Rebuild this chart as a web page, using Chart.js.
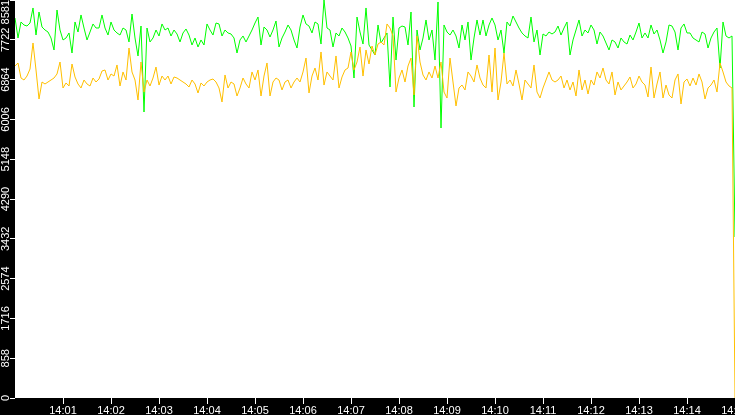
<!DOCTYPE html>
<html>
<head>
<meta charset="utf-8">
<script src="https://cdn.jsdelivr.net/npm/chart.js@4/dist/chart.umd.min.js"></script>
<style>
  html, body { margin: 0; padding: 0; background: #000; }
  #wrap { width: 735px; height: 415px; position: relative; }
</style>
</head>
<body>
<div id="wrap"><canvas id="speedChart"></canvas></div>
<script>
// 采样间隔(秒), 从 14:00:00 开始
const sampleStep = 3.75;

// 绿色曲线
const greenValues = [
  8193, 7762, 8107, 8042, 8020, 8085, 8409, 7826, 8322, 7999, 7934, 7891, 7762, 7503, 8365, 7934, 7719, 7762, 7870, 7438, 8107, 7891, 8258, 7977, 7719, 7891, 8064, 7977, 7977, 8258,
  7977, 7826, 8107, 7934, 7870, 7826, 7977, 7934, 7676, 8279, 7762, 7374, 8020, 6166, 7977, 7676, 7762, 7934, 7805, 8064, 7934, 7977, 7805, 7934, 7848, 7676, 7870, 7956, 7826, 7611,
  7762, 7568, 7719, 7611, 8064, 7934, 7826, 8085, 8064, 7805, 7934, 7870, 7848, 7762, 7438, 7719, 7805, 7676, 7805, 7934, 8085, 8214, 7611, 7999, 7934, 7783, 7934, 8128, 7568, 7762,
  7891, 8042, 7934, 7719, 7546, 7999, 8258, 8064, 8020, 7870, 8107, 8064, 7632, 8581, 7977, 7934, 7568, 7870, 7805, 7977, 7891, 7762, 7589, 6899, 8214, 7891, 7632, 8409, 7611, 7503,
  7395, 8042, 7654, 7762, 7870, 6705, 8214, 7287, 7977, 8020, 7999, 7611, 8322, 6274, 7934, 7503, 7762, 8150, 7719, 7934, 7287, 8538, 5821, 8042, 7891, 7826, 7934, 7805, 7546, 8042,
  7719, 8107, 7287, 7762, 8150, 7826, 8150, 7805, 8042, 8193, 8042, 7719, 7934, 7438, 8107, 8020, 8236, 8107, 7977, 7870, 7805, 7762, 8214, 7676, 7934, 7395, 7848, 7805, 7891, 7848, 7891, 8020,
  7826, 7977, 8107, 7395, 7719, 7934, 8150, 7805, 7934, 7870, 8042, 7934, 7632, 7891, 7805, 7654, 7503, 7719, 7676, 7546, 7762, 7676, 7632, 7826, 7719, 7891, 8085, 7762, 7870, 7762,
  8042, 7848, 7934, 7719, 7438, 7676, 8042, 8020, 7891, 7503, 7977, 8064, 7870, 7870, 7762, 7719, 7676, 7891, 7848, 7546, 7762, 7891, 7977, 7115, 8107, 7805, 7762, 7805,
  3471
];

// 黄色曲线
const yellowValues = [
  7158, 7223, 6899, 6856, 6942, 7093, 7654, 7072, 6447, 6813, 6770, 6813, 6856, 6899, 6986, 7244, 6684, 6792, 6727, 7201, 6921, 6770, 6684, 6856, 6770, 6727, 6899, 6813, 6878, 7050,
  7072, 6856, 6986, 6942, 7180, 6727, 7029, 6856, 7546, 7029, 6856, 6425, 7244, 6597, 6856, 6727, 6899, 7136, 6748, 6942, 6856, 6942, 6770, 6921, 6899, 6856, 6813, 6770, 6705, 6856,
  6770, 6576, 6792, 6727, 6813, 6856, 6878, 6813, 6684, 6382, 6964, 6684, 6813, 6770, 6511, 6684, 6899, 6770, 6684, 7029, 6856, 7072, 6511, 6942, 7223, 6511, 6813, 6899, 6856, 6641,
  6813, 6856, 6684, 6813, 6899, 6813, 7029, 7330, 6576, 6942, 7115, 6856, 7460, 6748, 7029, 6942, 6856, 7374, 6684, 6921, 7072, 7115, 7460, 7072, 7244, 7568, 6942, 7503, 7201, 7589,
  7395, 7632, 7676, 7611, 8064, 7977, 7805, 6597, 6899, 7072, 6813, 7158, 7330, 6533, 7805, 7244, 6964, 6856, 7029, 6899, 7158, 6899, 7244, 6597, 6468, 7330, 6813, 6296, 6684, 6748,
  6641, 7029, 6942, 6813, 7180, 6899, 6748, 6684, 7395, 6597, 7546, 6425, 6813, 7438, 6770, 6856, 6727, 7072, 6770, 6425, 6856, 6770, 6684, 7180, 6597, 6468, 6684, 6856, 7029, 6856, 6813, 6856,
  6942, 6684, 6856, 6641, 6813, 6511, 7072, 6641, 6856, 6554, 6856, 6748, 7029, 6899, 7115, 6856, 6770, 7029, 6533, 6813, 6641, 6727, 6813, 6921, 6684, 6770, 6942, 6813, 6748, 6490,
  7136, 6468, 6770, 7029, 6468, 6748, 6533, 6468, 6856, 6986, 6339, 6813, 6878, 6727, 6899, 6748, 6986, 6813, 6447, 6684, 6748, 6856, 6597, 7223, 7029, 6813, 6727, 6684,
  0
];

// 坐标轴刻度
const xTickSeconds = [60, 120, 180, 240, 300, 360, 420, 480, 540, 600, 660, 720, 780, 840, 900];
const xTickLabels = ['14:01', '14:02', '14:03', '14:04', '14:05', '14:06', '14:07', '14:08', '14:09', '14:10', '14:11', '14:12', '14:13', '14:14', '14:15'];
const yTickValues = [0, 858, 1716, 2574, 3432, 4290, 5148, 6006, 6864, 7722, 8581];

const axisFont = { family: 'Liberation Sans', size: 11 };

// 初始化页面
window.addEventListener('DOMContentLoaded', () => {
  initChart();
});

// 黑色底色, 白色绘图区
const areaBackground = {
  id: 'areaBackground',
  beforeDraw(chart) {
    const { ctx, chartArea } = chart;
    ctx.save();
    ctx.fillStyle = '#000';
    ctx.fillRect(0, 0, chart.width, chart.height);
    ctx.fillStyle = '#fff';
    ctx.fillRect(chartArea.left, chartArea.top, chartArea.right - chartArea.left, chartArea.bottom - chartArea.top);
    ctx.restore();
  }
};

// 数值 -> 点
function toPoints(values) {
  return values.map((v, i) => ({ x: i * sampleStep, y: v }));
}

// 初始化图表
function initChart() {
  const ctx = document.getElementById('speedChart').getContext('2d');

  window.speedChart = new Chart(ctx, {
    type: 'line',
    data: {
      datasets: [{
        data: toPoints(yellowValues),
        borderColor: '#ffc000',
        borderWidth: 1
      }, {
        data: toPoints(greenValues),
        borderColor: '#00ff00',
        borderWidth: 1
      }]
    },
    options: {
      responsive: true,
      maintainAspectRatio: false,
      animation: false,
      layout: { padding: 0 },
      elements: {
        point: { radius: 0 },
        line: { tension: 0 }
      },
      plugins: {
        legend: { display: false },
        tooltip: { enabled: false }
      },
      scales: {
        x: {
          type: 'linear',
          min: 0,
          max: 900,
          afterBuildTicks: s => { s.ticks = xTickSeconds.map(v => ({ value: v })); },
          afterFit: s => { s.height = 17; s.paddingLeft = 0; s.paddingRight = 0; },
          grid: { drawOnChartArea: false, tickLength: 6, tickColor: '#fff' },
          border: { display: false },
          ticks: {
            color: '#fff',
            font: axisFont,
            padding: 0,
            maxRotation: 0,
            autoSkip: false,
            callback: (v, i) => xTickLabels[i]
          }
        },
        y: {
          min: 0,
          max: 8581,
          afterBuildTicks: s => { s.ticks = yTickValues.map(v => ({ value: v })); },
          afterFit: s => { s.width = 15; s.paddingTop = 0; s.paddingBottom = 0; },
          grid: { drawOnChartArea: false, tickLength: 5, tickColor: '#fff' },
          border: { display: false },
          ticks: {
            color: '#fff',
            font: axisFont,
            minRotation: 90,
            maxRotation: 90,
            autoSkip: false,
            crossAlign: 'center',
            padding: -20.8,
            // 顶部标签往下挪一点, 避免被裁掉
            callback: (v, i) => i === yTickValues.length - 1 ? yTickValues[i] + '        ' : String(yTickValues[i])
          }
        }
      }
    },
    plugins: [areaBackground]
  });
}
</script>
</body>
</html>
